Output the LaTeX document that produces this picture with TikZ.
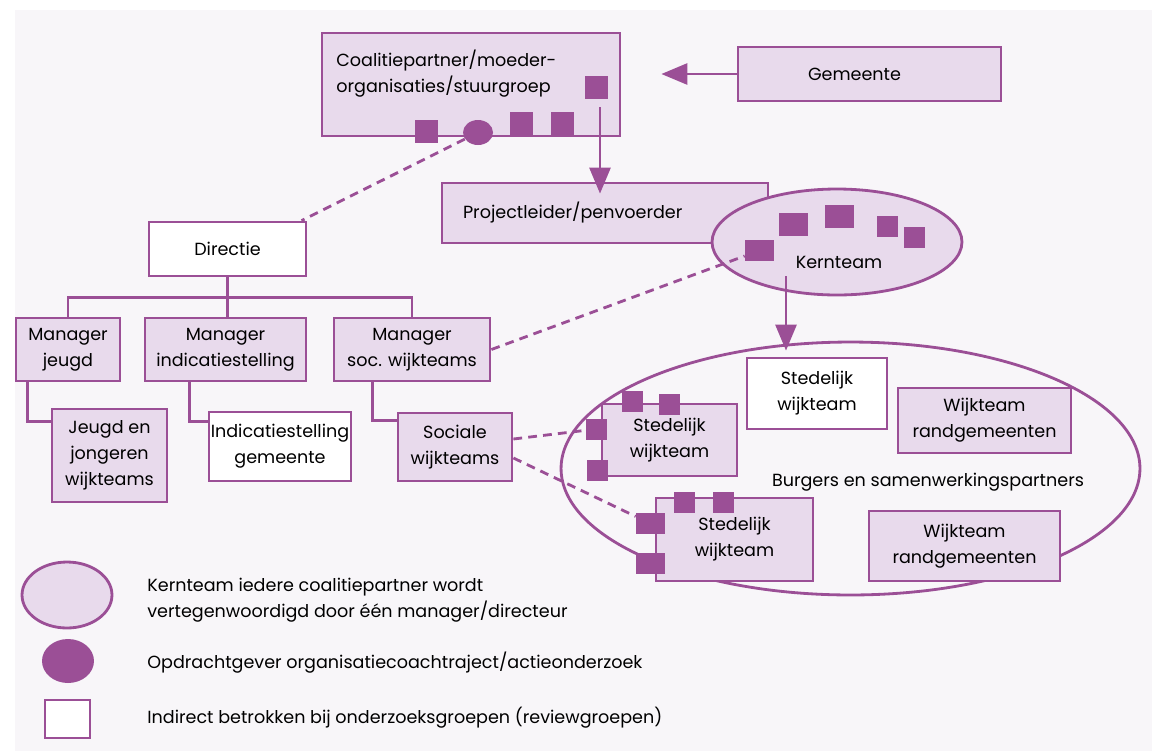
\documentclass[tikz,border=0pt]{standalone}
\usepackage{fontspec}
\setmainfont{Poppins}
\usetikzlibrary{arrows.meta}
\usetikzlibrary{shapes.geometric}
\definecolor{mypurple}{RGB}{155,79,150}
\definecolor{mylavender}{RGB}{232,218,236}
\definecolor{mybg}{RGB}{248,246,249}
\tikzstyle{txt}=[inner sep=0pt, align=center, font=\fontsize{10}{14.8}\selectfont]
\tikzstyle{orgbox}=[txt, rectangle, draw=mypurple, line width=1.6pt, fill=mylavender]
\tikzstyle{whitebox}=[orgbox, fill=white]
\tikzstyle{marker}=[rectangle, fill=mypurple, inner sep=0pt, minimum width=0.46cm, minimum height=0.46cm]
\tikzstyle{link}=[draw=mypurple, line width=1.6pt]
\tikzstyle{arrowlink}=[link, -{Triangle[length=0.52cm,width=0.42cm]}]
\tikzstyle{dashedlink}=[link, dash pattern=on 5pt off 3.5pt]

\begin{document}
\begin{tikzpicture}[x=0.02cm, y=-0.02cm]

      \useasboundingbox (0,0) rectangle (1152,751);
      \fill[mybg] (15,10) rectangle (1152,751);

      \node[orgbox, minimum width=5.96cm, minimum height=2.06cm] (coalitie_box) at (471,84.5) {};
      \node[txt, anchor=west, align=left] (coalitie_text) at (336,74) {Coalitiepartner/moeder-\\organisaties/stuurgroep};
      \node[marker] (coalitie_sq1) at (426.5,131.5) {};
      \node[marker, ellipse, minimum width=0.6cm, minimum height=0.5cm] (opdracht_dot) at (478,132.5) {};
      \node[marker] (coalitie_sq2) at (521.5,123.5) {};
      \node[marker] (coalitie_sq3) at (562.5,123.5) {};
      \node[marker] (coalitie_sq4) at (596.5,87.5) {};

      \node[orgbox, minimum width=5.26cm, minimum height=1.08cm] (gemeente_box) at (869.5,74) {Gemeente\hspace*{0.6cm}};
      \draw[arrowlink, shorten >=0.8cm] (gemeente_box.west) -- (gemeente_box.west -| coalitie_box.east);

      \node[orgbox, minimum height=1.2cm, text width=5.68cm, inner xsep=0.42cm, align=left] (projectleider_box) at (605,213) {Projectleider/penvoerder};
      \draw[arrowlink, shorten <=0.16cm, shorten >=-0.24cm] ([xshift=0.07cm]coalitie_sq4.south) -- ([xshift=0.07cm]coalitie_sq4.south |- projectleider_box.north);

      \node[orgbox, ellipse, minimum width=5cm, minimum height=2.12cm] (kernteam_ellipse) at (837,242) {};
      \node[txt] (kernteam_text) at (839,262) {Kernteam};
      \node[marker, minimum width=0.58cm] (kern_sq1) at (793.5,224.5) {};
      \node[marker, minimum width=0.58cm] (kern_sq2) at (839.5,216.5) {};
      \node[marker, minimum size=0.42cm] (kern_sq3) at (887.5,226.5) {};
      \node[marker, minimum size=0.42cm] (kern_sq4) at (914.5,237.5) {};
      \node[marker, minimum width=0.58cm, minimum height=0.42cm] (kern_sq5) at (759.5,250.5) {};
      \coordinate (kern_out) at (786,276);

      % organisatie links
      \node[whitebox, minimum width=3.14cm, minimum height=1.08cm] (directie_box) at (227.5,249) {Directie};
      \node[orgbox, minimum width=2.08cm, minimum height=1.26cm] (manager_jeugd) at (68,349.5) {Manager\\jeugd};
      \node[orgbox, minimum width=3.22cm, minimum height=1.26cm] (manager_indicatie) at (225.5,349.5) {Manager\\indicatiestelling};
      \node[orgbox, minimum width=3.12cm, minimum height=1.26cm] (manager_soc) at (412,349.5) {Manager\\soc. wijkteams};

      \draw[link] (directie_box.south) -- ++(0,20) -| (manager_jeugd.north);
      \draw[link] (directie_box.south) -- ++(0,20) -| (manager_soc.north);
      \draw[link] (directie_box.south) -- (directie_box.south |- manager_indicatie.north);

      \node[orgbox, minimum width=2.3cm, minimum height=1.86cm] (jeugd_box) at (109.5,455.5) {Jeugd en\\jongeren\\wijkteams};
      \node[whitebox, minimum width=2.84cm, minimum height=1.38cm] (indicatie_box) at (280,446.5) {Indicatiestelling\\gemeente};
      \node[orgbox, minimum width=2.28cm, minimum height=1.36cm] (sociale_box) at (455,447) {Sociale\\wijkteams};

      \draw[link] (manager_jeugd.south west) ++(13,0) |- ([yshift=-0.28cm]jeugd_box.north west);
      \draw[link] (manager_indicatie.south west) ++(46,0) |- ([yshift=-0.22cm]indicatie_box.north west);
      \draw[link] (manager_soc.south west) ++(40,0) |- ([yshift=-0.18cm]sociale_box.north west);

      % wijken
      \node[draw=mypurple, line width=1.6pt, ellipse, inner sep=0pt, minimum width=11.58cm, minimum height=5.06cm] (burgers_ellipse) at (850.5,468.5) {};
      \node[txt] (burgers_text) at (928,482) {Burgers en samenwerkingspartners};
      \draw[arrowlink, shorten >=-0.2cm] (kern_out) -- (kern_out |- burgers_ellipse.north);

      \node[whitebox, minimum width=2.8cm, minimum height=1.42cm] (stedelijk_wit) at (817,393.5) {Stedelijk\\wijkteam};
      \node[orgbox, minimum width=3.46cm, minimum height=1.3cm] (rand_box1) at (984.5,420.5) {Wijkteam\\randgemeenten};
      \node[orgbox, minimum width=3.82cm, minimum height=1.4cm] (rand_box2) at (964.5,546) {Wijkteam\\randgemeenten};

      \node[orgbox, minimum width=2.7cm, minimum height=1.44cm] (stad_box1) at (669.5,440) {Stedelijk\\wijkteam};
      \node[marker, minimum size=0.42cm] (stad1_sq1) at (632.5,401.5) {};
      \node[marker, minimum size=0.42cm] (stad1_sq2) at (669.5,404) {};
      \node[marker, minimum size=0.42cm] (stad1_sq3) at (596.5,429) {};
      \node[marker, minimum size=0.42cm] (stad1_sq4) at (597.5,470.5) {};

      \node[orgbox, minimum width=3.14cm, minimum height=1.66cm] (stad_box2) at (734.5,539.5) {Stedelijk\\wijkteam};
      \node[marker, minimum size=0.42cm] (stad2_sq1) at (684.5,502.5) {};
      \node[marker, minimum size=0.42cm] (stad2_sq2) at (723.5,502.5) {};
      \node[marker, minimum width=0.58cm, minimum height=0.42cm] (stad2_sq3) at (650.5,523.5) {};
      \node[marker, minimum width=0.58cm, minimum height=0.42cm] (stad2_sq4) at (650.5,563.5) {};

      \draw[dashedlink] (opdracht_dot) -- (directie_box.21);
      \draw[dashedlink] (manager_soc.east) -- (kern_sq5);
      \draw[dashedlink] ([yshift=0.16cm]sociale_box.east) -- (stad1_sq3);
      \draw[dashedlink] ([yshift=-0.22cm]sociale_box.east) -- (stad2_sq3);

      % legenda
      \node[orgbox, ellipse, minimum width=1.8cm, minimum height=1.32cm] (legend_ellipse) at (67,595) {};
      \node[marker, ellipse, minimum width=1.04cm, minimum height=0.88cm] (legend_dot) at (68,661) {};
      \node[whitebox, minimum width=0.9cm, minimum height=0.76cm] (legend_square) at (67.5,719) {};
      \node[txt, anchor=west, align=left] (legend_text1) at (147,600) {Kernteam iedere coalitiepartner wordt\\vertegenwoordigd door één manager/directeur};
      \node[txt, anchor=west] (legend_text2) at (147,663) {Opdrachtgever organisatiecoachtraject/actieonderzoek};
      \node[txt, anchor=west] (legend_text3) at (147,718) {Indirect betrokken bij onderzoeksgroepen (reviewgroepen)};

\end{tikzpicture}
\end{document}
